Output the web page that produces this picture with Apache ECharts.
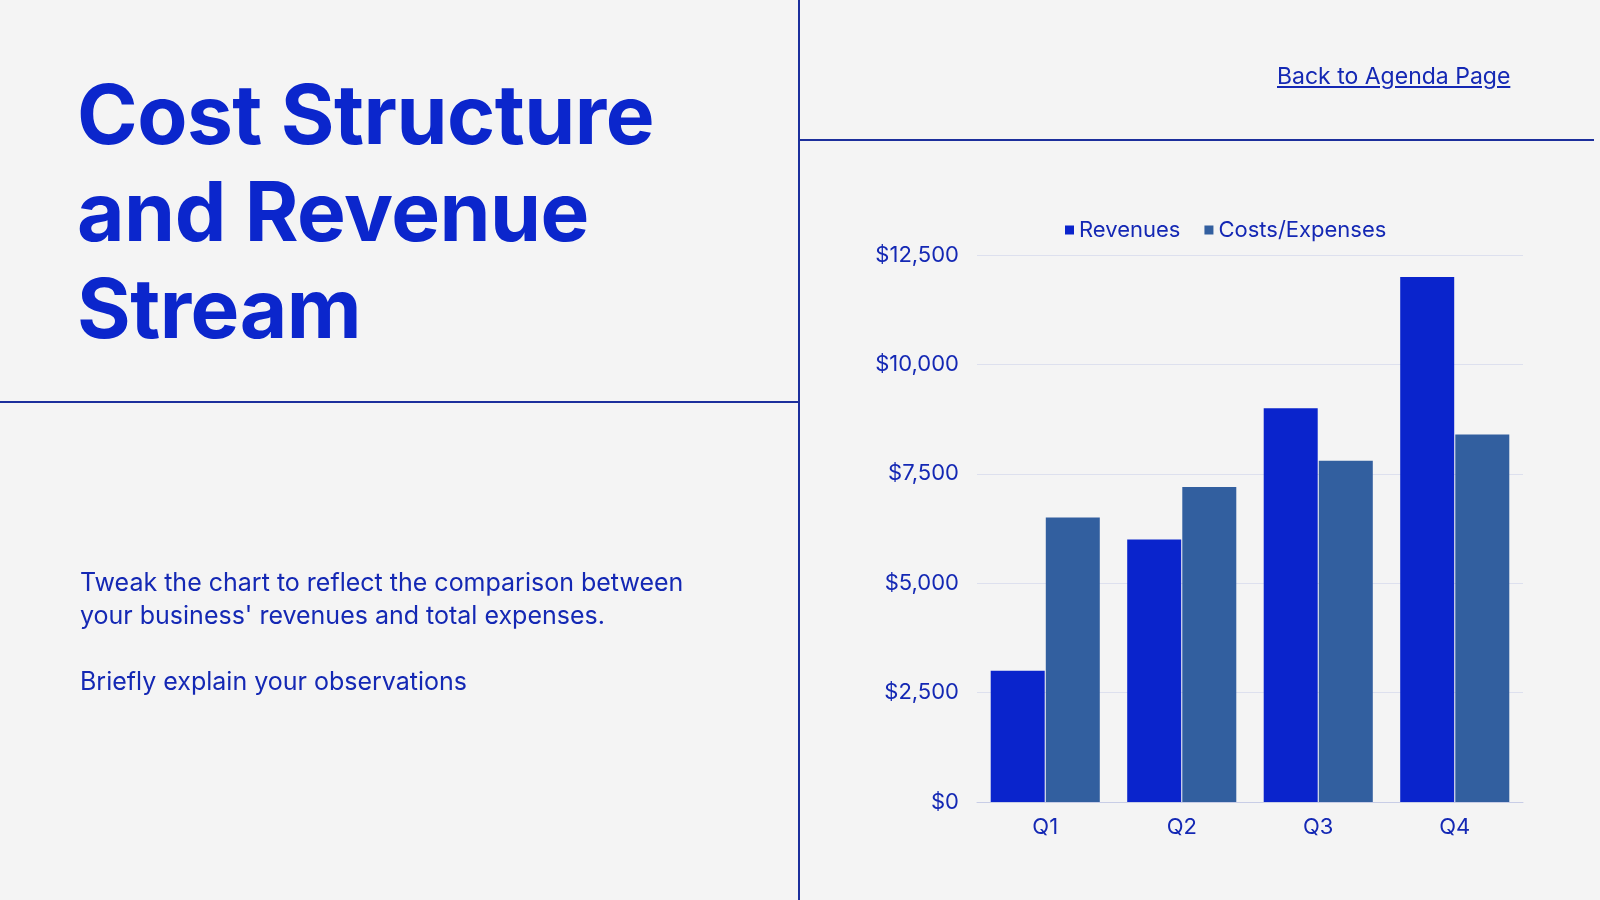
<!DOCTYPE html>
<html>
<head>
<meta charset="utf-8">
<script src="https://cdn.jsdelivr.net/npm/echarts@6/dist/echarts.min.js"></script>
<style>
  html, body { margin:0; padding:0; background:#f4f4f4; width:1600px; height:900px; overflow:hidden; font-family:Inter, "Noto Sans", sans-serif; }
  #container { position:absolute; left:0; top:0; width:1600px; height:900px; }
  .vline { position:absolute; left:798px; top:0; width:2px; height:900px; background:#1c2f9c; }
  .hline1 { position:absolute; left:0; top:401px; width:799px; height:2px; background:#1c2f9c; }
  .hline2 { position:absolute; left:799px; top:139px; width:795px; height:2px; background:#1c2f9c; }
  h1 { position:absolute; left:77px; top:66px; margin:0; font-size:82px; line-height:97px; font-weight:700; color:#0b26cc; letter-spacing:-0.5px; }
  .desc { position:absolute; left:80px; top:566px; margin:0; font-size:25px; line-height:33px; color:#1428b4; }
  .link { position:absolute; left:1277px; top:62px; font-size:23px; color:#1428b4; text-decoration:underline; }
</style>
</head>
<body>
<div id="container"></div>
<div class="vline"></div>
<div class="hline1"></div>
<div class="hline2"></div>
<h1>Cost Structure<br>and Revenue<br>Stream</h1>
<p class="desc">Tweak the chart to reflect the comparison between<br>your business' revenues and total expenses.<br><br>Briefly explain your observations</p>
<a class="link">Back to Agenda Page</a>
<script>
var quarters = ['Q1', 'Q2', 'Q3', 'Q4'];
var revenues = [3000, 6000, 9000, 12000];
var costs = [6500, 7200, 7800, 8400];

$ = null;
var myChart = echarts.init(document.getElementById('container'));
var option = {
    textStyle: { fontFamily: 'Inter' },
    legend: {
        top: 214,
        left: 1060,
        itemWidth: 9, itemHeight: 9, itemGap: 24,
        icon: 'rect',
        textStyle: { color: '#1428b4', fontSize: 22 },
        data: ['Revenues', 'Costs/Expenses']
    },
    grid: { left: 977, top: 255, width: 546, height: 547 },
    xAxis: {
        type: 'category',
        data: quarters,
        axisLine: { lineStyle: { color: '#c8cde6' } },
        axisTick: { show: false },
        axisLabel: { color: '#1428b4', fontSize: 22, margin: 14 }
    },
    yAxis: {
        type: 'value', min: 0, max: 12500, interval: 2500,
        axisLine: { show: false }, axisTick: { show: false },
        splitLine: { lineStyle: { color: '#dde0ee' } },
        axisLabel: {
            color: '#1428b4', fontSize: 22, margin: 18,
            formatter: function (v) { return '$' + v.toLocaleString('en-US'); }
        }
    },
    series: [
        { name: 'Revenues', type: 'bar', data: revenues, barWidth: 54, barGap: '2%',
          itemStyle: { color: '#0a24cc' } },
        { name: 'Costs/Expenses', type: 'bar', data: costs, barWidth: 54,
          itemStyle: { color: '#325f9f' } }
    ]
};
myChart.setOption(option, true);
</script>
</body>
</html>
